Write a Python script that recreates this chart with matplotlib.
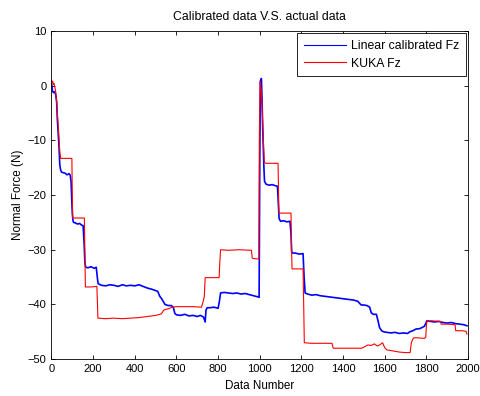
import matplotlib
matplotlib.use("Agg")
import matplotlib.pyplot as plt

plt.rcParams['font.family'] = ['Liberation Sans', 'DejaVu Sans']

# Blue: Linear calibrated Fz
blue_x = [0, 5, 10, 15, 20, 25, 28, 32, 36, 40, 44, 48, 55, 65, 75, 85, 90, 94, 97, 100,
          103, 106, 115, 125, 135, 145, 152, 157, 160, 163, 166, 175, 190, 205, 215, 220, 224,
          240, 260, 280, 300, 320, 340, 360, 380, 400, 420, 440, 460, 480, 495, 510, 520, 530,
          545, 560, 575, 585, 592, 600, 620, 640, 660, 680, 700, 715, 730, 738, 742, 748,
          760, 780, 800, 806, 812, 830, 850, 870, 890, 910, 930, 950, 970, 990, 997,
          1000, 1003, 1008, 1011, 1014, 1017, 1020, 1023, 1030, 1045, 1060, 1075, 1085, 1089,
          1093, 1100, 1115, 1130, 1145, 1150, 1153, 1157, 1170, 1190, 1208, 1213, 1218, 1230,
          1250, 1270, 1290, 1310, 1330, 1350, 1370, 1390, 1410, 1430, 1450, 1470, 1480, 1487,
          1500, 1515, 1528, 1535, 1545, 1560, 1568, 1575, 1585, 1595, 1610, 1630, 1650, 1670,
          1690, 1710, 1720, 1735, 1750, 1770, 1790, 1797, 1802, 1820, 1840, 1860, 1880, 1900,
          1920, 1940, 1960, 1980, 1995]
blue_y = [0.5, -1.0, -1.3, -1.1, -1.6, -3.0, -6.0, -8.5, -11.0, -14.5, -15.4, -15.8, -15.9, -16.0, -16.3, -16.1, -16.4, -17.5, -20.5, -23.3,
          -24.6, -25.0, -25.1, -25.3, -25.2, -25.5, -25.6, -29.0, -32.0, -33.0, -33.2, -33.3, -33.1, -33.4, -33.2, -35.0, -36.2,
          -36.5, -36.6, -36.4, -36.5, -36.7, -36.4, -36.6, -36.5, -36.6, -36.4, -36.7, -37.0, -37.2, -37.4, -37.6, -38.5, -39.0,
          -40.0, -40.2, -40.2, -40.5, -41.6, -41.9, -42.0, -41.8, -42.1, -42.0, -42.2, -42.0, -42.3, -43.2, -41.0, -40.6,
          -40.6, -40.5, -40.7, -39.5, -37.9, -37.8, -37.9, -38.0, -37.9, -38.1, -38.0, -38.2, -38.4, -38.6, -38.7,
          -15.0, 0.8, 1.3, -2.5, -7.5, -11.5, -15.0, -17.5, -18.0, -18.2, -18.1, -18.3, -18.4, -21.5,
          -24.3, -24.8, -24.7, -24.9, -24.8, -27.0, -30.3, -30.6, -30.6, -30.8, -30.7, -35.0, -37.9, -38.1,
          -38.3, -38.2, -38.4, -38.5, -38.6, -38.7, -38.8, -38.9, -39.0, -39.1, -39.2, -39.4, -39.8, -40.1,
          -40.1, -40.2, -40.5, -41.5, -41.8, -41.8, -43.0, -44.2, -44.8, -45.0, -45.1, -45.2, -45.1, -45.3,
          -45.2, -45.3, -45.0, -44.8, -44.5, -44.4, -44.0, -43.5, -43.0, -43.1, -43.2, -43.1, -43.3, -43.4,
          -43.3, -43.5, -43.6, -43.7, -43.9]

# Red: KUKA Fz
red_x = [0, 3, 6, 9, 12, 16, 20, 24, 28, 32, 36, 40, 44, 60, 80, 98, 100, 102, 130, 158, 161, 163,
         190, 218, 221, 223, 260, 300, 340, 380, 420, 460, 500, 520, 528, 540, 560, 580, 600, 640,
         680, 720, 728, 734, 738, 760, 790, 805, 808, 812, 850, 900, 960, 964, 968, 996,
         998, 1002, 1006, 1010, 1014, 1018, 1022, 1030, 1060, 1088, 1090, 1092, 1120, 1150, 1152,
         1155, 1180, 1208, 1211, 1214, 1250, 1300, 1347, 1350, 1353, 1420, 1490, 1505, 1520, 1535,
         1550, 1565, 1575, 1590, 1600, 1610, 1640, 1670, 1700, 1722, 1728, 1734, 1740, 1760, 1790,
         1797, 1800, 1803, 1830, 1868, 1871, 1900, 1938, 1941, 1970, 1990, 1995]
red_y = [1.0, 0.5, 0.8, 0.2, 0.4, -0.3, -1.0, -2.5, -5.0, -7.0, -9.5, -12.0, -13.3, -13.3, -13.3, -13.3, -20.0, -24.2, -24.2, -24.2, -32.0, -36.8,
         -36.8, -36.7, -40.0, -42.5, -42.6, -42.5, -42.6, -42.5, -42.4, -42.2, -42.0, -41.8, -41.7, -41.0, -40.8, -40.5, -40.4, -40.4,
         -40.4, -40.5, -39.5, -38.5, -35.1, -35.1, -35.1, -35.1, -32.5, -30.0, -30.1, -30.0, -30.1, -31.5, -31.6, -31.7,
         -10.0, 0.7, -0.6, -2.5, -6.5, -10.5, -14.0, -14.2, -14.2, -14.2, -19.0, -23.3, -23.3, -23.3, -28.0,
         -33.5, -33.5, -33.5, -40.0, -47.0, -47.1, -47.1, -47.1, -47.6, -48.0, -48.0, -48.0, -47.7, -47.4, -47.5,
         -47.2, -47.6, -47.4, -47.0, -47.9, -48.3, -48.5, -48.7, -48.8, -48.8, -47.0, -46.4, -46.1, -46.1, -46.2,
         -46.0, -44.0, -43.0, -43.0, -43.1, -43.6, -43.6, -43.7, -44.8, -44.8, -44.9, -45.4]

x_ticks = [0, 200, 400, 600, 800, 1000, 1200, 1400, 1600, 1800, 2000]
y_ticks = [10, 0, -10, -20, -30, -40, -50]

fig = plt.figure(figsize=(4.81, 3.96), dpi=100)
ax = fig.add_axes([0.107, 0.093, 0.866, 0.829])

ax.plot(blue_x, blue_y, color='#0000ff', lw=1.2, label='Linear calibrated Fz')
ax.plot(red_x, red_y, color='#ff0000', lw=0.8, label='KUKA Fz')

ax.set_xlim(0, 2000)
ax.set_ylim(-50, 10)
ax.set_xticks(x_ticks)
ax.set_yticks(y_ticks)
ax.tick_params(direction='in', top=True, right=True, labelsize=8, length=3, width=0.6, pad=3.5)
for s in ax.spines.values():
    s.set_linewidth(0.6)

ax.set_title('Calibrated data V.S. actual data', fontsize=8.8, pad=8)
ax.set_xlabel('Data Number', fontsize=8.4, labelpad=4)
ax.set_ylabel('Normal Force (N)', fontsize=8.4, labelpad=2.5)

leg = ax.legend(loc='upper right', fontsize=8.8, fancybox=False, framealpha=1,
                edgecolor='black', borderaxespad=0.2, handlelength=3.4,
                handletextpad=0.4, borderpad=0.55, labelspacing=0.45)
leg.get_frame().set_linewidth(0.6)
for h in leg.get_lines():
    h.set_linewidth(0.8)

fig.savefig('out.png', dpi=100)
